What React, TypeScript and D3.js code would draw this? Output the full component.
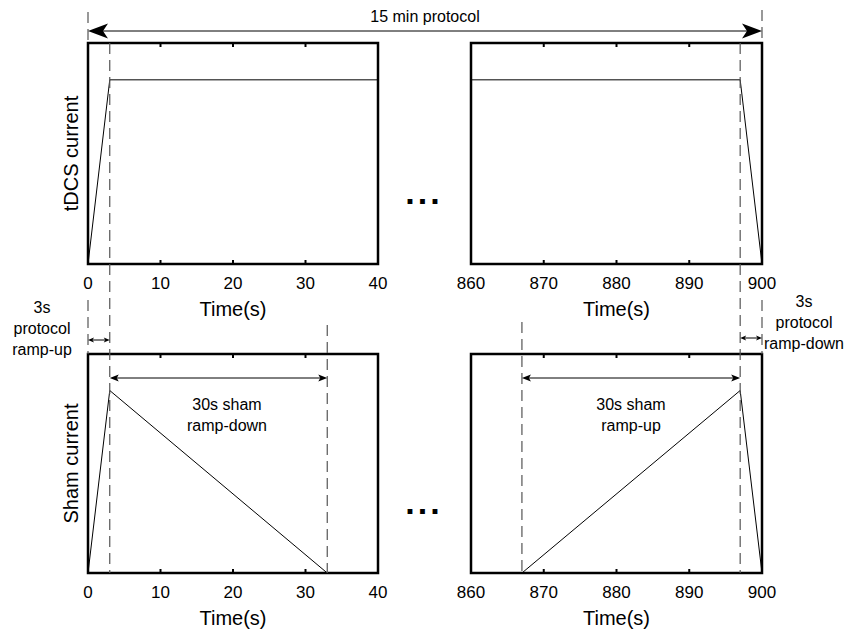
import React from 'react';
import * as d3 from 'd3';

// time ticks for the two windows of the protocol
const startTicks = [0, 10, 20, 30, 40];
const endTicks = [860, 870, 880, 890, 900];

// current waveforms (time in s, relative current)
const tdcsStartT = [0, 3, 40];
const tdcsStartV = [0, 1, 1];
const tdcsEndT = [860, 897, 900];
const tdcsEndV = [1, 1, 0];
const shamStartT = [0, 3, 33];
const shamStartV = [0, 1, 0];
const shamEndT = [867, 897, 900];
const shamEndV = [0, 1, 0];

// marker times
const protocolStart = 0;
const rampUpEnd = 3;
const shamDownEnd = 33;
const shamUpStart = 867;
const rampDownStart = 897;
const protocolEnd = 900;

const W = 846;
const H = 630;
const font = '"Liberation Sans", Arial, Helvetica, sans-serif';

const xLeft = d3.scaleLinear().domain([0, 40]).range([88, 378]);
const xRight = d3.scaleLinear().domain([860, 900]).range([471, 762]);
const yTop = d3.scaleLinear().domain([0, 1.2]).range([264, 43]);
const yBot = d3.scaleLinear().domain([0, 1.2]).range([573, 354]);

const line = (x: d3.ScaleLinear<number, number>, y: d3.ScaleLinear<number, number>, ts: number[], vs: number[]) =>
  d3.line<number>().x((d) => x(ts[d])).y((d) => y(vs[d]))(ts.map((_, i) => i)) || '';

const Panel = ({ x, y, ticks, ts, vs }: any) => {
  const [x0, x1] = x.range();
  const [y1, y0] = y.range();
  return (
    <g>
      <path d={line(x, y, ts, vs)} fill="none" stroke="#000" strokeWidth={1} />
      <rect x={x0} y={y0} width={x1 - x0} height={y1 - y0} fill="none" stroke="#000" strokeWidth={2.5} />
      {ticks.slice(1, -1).map((t: number) => (
        <g key={t}>
          <line x1={x(t)} x2={x(t)} y1={y1} y2={y1 - 4} stroke="#000" strokeWidth={2} />
          <line x1={x(t)} x2={x(t)} y1={y0} y2={y0 + 4} stroke="#000" strokeWidth={2} />
        </g>
      ))}
      {ticks.map((t: number) => (
        <text key={'l' + t} x={x(t)} y={y1 + 25} textAnchor="middle" fontSize={17} fontFamily={font}>
          {t}
        </text>
      ))}
      <text x={(x0 + x1) / 2} y={y1 + 52} textAnchor="middle" fontSize={20} fontFamily={font}>
        Time(s)
      </text>
    </g>
  );
};

const Dash = ({ x, ya, yb }: { x: number; ya: number; yb: number }) => (
  <line x1={x} x2={x} y1={ya} y2={yb} stroke="#555" strokeWidth={1.2} strokeDasharray="11,6" />
);

// horizontal double arrow; head = [length, half height, notch]
const Arrow = ({ xa, xb, y, head }: { xa: number; xb: number; y: number; head: number[] }) => {
  const [len, hh, notch] = head;
  const tip = (x: number, dir: number) =>
    `M${x},${y} L${x + dir * len},${y - hh} L${x + dir * notch},${y} L${x + dir * len},${y + hh} Z`;
  return (
    <g>
      <line x1={xa + notch} x2={xb - notch} y1={y} y2={y} stroke="#000" strokeWidth={1} />
      <path d={tip(xa, 1)} fill="#000" />
      <path d={tip(xb, -1)} fill="#000" />
    </g>
  );
};

const Lines = ({ x, y, lines, size }: { x: number; y: number; lines: string[]; size: number }) => (
  <text x={x} y={y} textAnchor="middle" fontSize={size} fontFamily={font}>
    {lines.map((l, i) => (
      <tspan key={i} x={x} dy={i === 0 ? 0 : 21}>
        {l}
      </tspan>
    ))}
  </text>
);

export default function App() {
  return (
    <svg width={W} height={H} style={{ position: 'absolute', left: 0, top: 0, background: '#fff' }}>
      <Panel x={xLeft} y={yTop} ticks={startTicks} ts={tdcsStartT} vs={tdcsStartV} />
      <Panel x={xRight} y={yTop} ticks={endTicks} ts={tdcsEndT} vs={tdcsEndV} />
      <Panel x={xLeft} y={yBot} ticks={startTicks} ts={shamStartT} vs={shamStartV} />
      <Panel x={xRight} y={yBot} ticks={endTicks} ts={shamEndT} vs={shamEndV} />

      {/* dashed guides */}
      <Dash x={xLeft(protocolStart)} ya={12} yb={43} />
      <Dash x={xLeft(protocolStart)} ya={300} yb={354} />
      <Dash x={xLeft(rampUpEnd)} ya={43} yb={573} />
      <Dash x={xLeft(shamDownEnd)} ya={325} yb={573} />
      <Dash x={xRight(shamUpStart)} ya={322} yb={573} />
      <Dash x={xRight(rampDownStart)} ya={43} yb={573} />
      <Dash x={xRight(protocolEnd)} ya={10} yb={43} />
      <Dash x={xRight(protocolEnd)} ya={300} yb={354} />

      {/* annotations */}
      <Arrow xa={xLeft(protocolStart)} xb={xRight(protocolEnd)} y={31} head={[20, 7.5, 15]} />
      <text x={425} y={22} textAnchor="middle" fontSize={16} fontFamily={font}>15 min protocol</text>

      <Arrow xa={xLeft(protocolStart)} xb={xLeft(rampUpEnd)} y={340} head={[6, 2.5, 4.5]} />
      <Lines x={42} y={313} lines={['3s', 'protocol', 'ramp-up']} size={16} />

      <Arrow xa={xRight(rampDownStart)} xb={xRight(protocolEnd)} y={338} head={[6, 2.5, 4.5]} />
      <Lines x={804} y={307} lines={['3s', 'protocol', 'ramp-down']} size={16} />

      <Arrow xa={xLeft(rampUpEnd)} xb={xLeft(shamDownEnd)} y={378} head={[9, 3.5, 7]} />
      <Lines x={227} y={410} lines={['30s sham', 'ramp-down']} size={16} />

      <Arrow xa={xRight(shamUpStart)} xb={xRight(rampDownStart)} y={378} head={[9, 3.5, 7]} />
      <Lines x={631} y={410} lines={['30s sham', 'ramp-up']} size={16} />

      {/* y labels */}
      <text transform={`translate(71,${(yTop.range()[0] + yTop.range()[1]) / 2}) rotate(-90)`} textAnchor="middle" dominantBaseline="central" fontSize={20} fontFamily={font}>
        tDCS current
      </text>
      <text transform={`translate(71,${(yBot.range()[0] + yBot.range()[1]) / 2}) rotate(-90)`} textAnchor="middle" dominantBaseline="central" fontSize={20} fontFamily={font}>
        Sham current
      </text>

      {/* ellipsis between the two windows */}
      <text x={424} y={204} textAnchor="middle" fontSize={34} fontWeight="bold" letterSpacing={3} fontFamily={font}>...</text>
      <text x={424} y={514} textAnchor="middle" fontSize={34} fontWeight="bold" letterSpacing={3} fontFamily={font}>...</text>
    </svg>
  );
}
